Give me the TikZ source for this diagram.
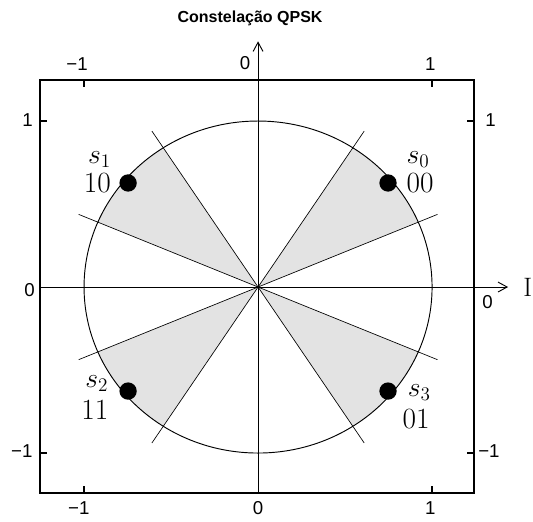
\documentclass[tikz,border=0pt]{standalone}
\usepackage{fontspec}
\setsansfont{Liberation Sans}
\usetikzlibrary{arrows.meta,positioning}
\tikzset{ax/.style={line width=.7pt,-{Straight Barb[length=2.4mm,width=2.6mm]}},
 frm/.style={line width=.9pt},tk/.style={line width=1.6pt},
 bd/.style={line width=.5pt},sec/.style={fill=black!11},
 num/.style={font=\sffamily\fontsize{14}{16}\selectfont,inner sep=0pt},
 pt/.style={circle,fill=black,inner sep=0pt,minimum size=13pt},
 sy/.style={font=\fontsize{22}{24}\selectfont,inner sep=0pt},
 bits/.style={font=\fontsize{22}{24}\selectfont,inner sep=0pt}}
\begin{document}
\begin{tikzpicture}[x=4.587cm,y=4.376cm]
\useasboundingbox (-1.483,-1.41) rectangle (1.58,1.729);
\coordinate (O) at (0,0);
\foreach \a in {40,140,220,320}
 \fill[sec] (O)--(\a-17:1) arc[start angle=\a-17,end angle=\a+17,radius=1]--cycle;
\foreach \a in {23,57,123,157}{\coordinate (u\a) at (\a:1.12);\coordinate (v\a) at (\a+180:1.12);
 \draw[bd] (v\a)--(u\a);}
\draw[bd,line width=.7pt] (O) circle[radius=1];
\draw[frm] (-1.253,-1.241) rectangle (1.241,1.247);
\coordinate (xl) at (-1.253,0);\coordinate (xr) at (1.437,0);
\coordinate (yb) at (0,-1.241);\coordinate (yt) at (0,1.48);
\draw[ax] (xl)--(xr);\draw[ax] (yb)--(yt);
\node[font=\fontsize{20}{22}\selectfont,inner sep=0pt] (I) at (1.55,0) {I};
\node[font=\sffamily\bfseries\fontsize{12}{14}\selectfont] (ttl) at (-0.046,1.616) {Constelação QPSK};
\foreach \v in {-1,1}{
 \draw[tk] (\v,1.247)--++(0,-.042);\draw[tk] (\v,-1.241)--++(0,.042);
 \draw[tk] (-1.253,\v)--++(.04,0);\draw[tk] (1.241,\v)--++(-.04,0);}
\node[num] (tta) at (-1.04,1.346) {−1};\node[num] (ttb) at (-0.075,1.35) {0};\node[num] (ttc) at (0.99,1.346) {1};
\node[num] (tba) at (-1.03,-1.334) {−1};\node[num] (tbb) at (0,-1.334) {0};\node[num] (tbc) at (0.99,-1.334) {1};
\node[num,anchor=east] (tla) at (-1.295,-0.99) {−1};\node[num,anchor=east] (tlb) at (-1.282,-0.018) {0};
\node[num,anchor=east] (tlc) at (-1.293,1.003) {1};
\node[num,anchor=west] (tra) at (1.264,-0.99) {−1};\node[num,anchor=west] (trb) at (1.287,-0.09) {0};
\node[num,anchor=west] (trc) at (1.305,1.006) {1};
\node[pt] (p0) at (40:.975) {};\node[pt] (p1) at (140:.975) {};
\node[pt] (p2) at (220:.975) {};\node[pt] (p3) at (320:.975) {};
\node[bits,right=7pt of p0] (b0) {00};
\node[sy,above=4pt of b0.north west,anchor=south west] (s0) {$s_0$};
\node[bits,left=6pt of p1] (b1) {10};
\node[sy,above=4pt of b1.north east,anchor=south east] (s1) {$s_1$};
\node[sy,anchor=base east] (s2) at ([xshift=-8pt,yshift=3pt]p2.west) {$s_2$};
\node[bits,below=6pt of s2.south east,anchor=north east] (b2) {11};
\node[sy,anchor=base west] (s3) at ([xshift=8pt,yshift=-4pt]p3.east) {$s_3$};
\node[bits,below=6pt of s3.south west,anchor=north west,xshift=-4pt] (b3) {01};
\end{tikzpicture}
\end{document}
